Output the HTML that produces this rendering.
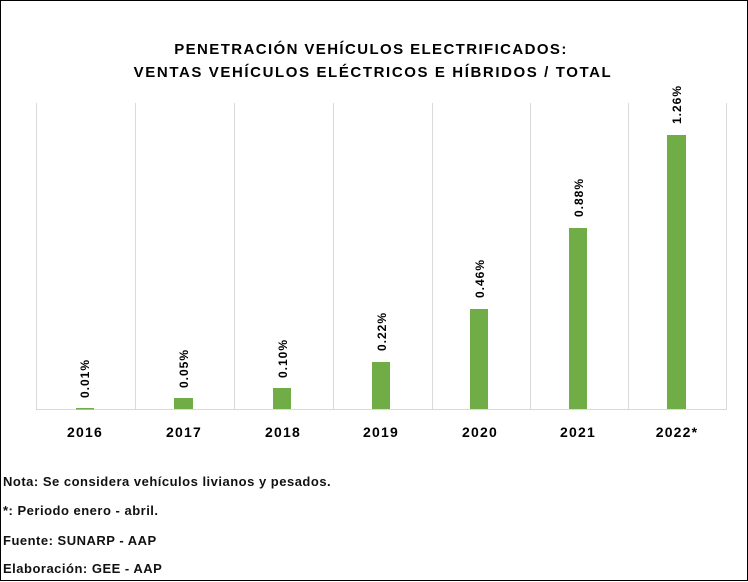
<!DOCTYPE html>
<html><head><meta charset="utf-8"><style>
body{margin:0;width:748px;height:582px;background:#fff;font-family:"Liberation Sans",sans-serif;overflow:hidden}
.frame{position:absolute;left:0;top:0;width:746px;height:579px;border:1px solid #000}
</style></head><body>
<div class="frame"></div>
<svg width="748" height="582" style="position:absolute;left:0;top:0" font-family="Liberation Sans, sans-serif">
<text x="371" y="54" text-anchor="middle" font-size="15" font-weight="bold" letter-spacing="1.4">PENETRACIÓN  VEHÍCULOS ELECTRIFICADOS:</text>
<text x="373" y="77" text-anchor="middle" font-size="15" font-weight="bold" letter-spacing="1.6">VENTAS VEHÍCULOS  ELÉCTRICOS  E HÍBRIDOS  /  TOTAL</text>
<g stroke="#d9d9d9" stroke-width="1">
<line x1="36.5" y1="103" x2="36.5" y2="409"/><line x1="135.5" y1="103" x2="135.5" y2="409"/>
<line x1="234.5" y1="103" x2="234.5" y2="409"/><line x1="333.5" y1="103" x2="333.5" y2="409"/>
<line x1="432.5" y1="103" x2="432.5" y2="409"/><line x1="530.5" y1="103" x2="530.5" y2="409"/>
<line x1="628.5" y1="103" x2="628.5" y2="409"/><line x1="726.5" y1="103" x2="726.5" y2="409"/>
<line x1="36" y1="409.5" x2="727" y2="409.5"/>
</g>
<g fill="#70ad47">
<rect x="76" y="408" width="18" height="1.5"/>
<rect x="174" y="398" width="19" height="11"/>
<rect x="273" y="388" width="18" height="21"/>
<rect x="372" y="362" width="18" height="47"/>
<rect x="470" y="309" width="18" height="100"/>
<rect x="569" y="228" width="18" height="181"/>
<rect x="667" y="135" width="19" height="274"/>
</g>
<g font-size="12" font-weight="bold" fill="#000" letter-spacing="1">
<text transform="translate(89,398) rotate(-90)">0.01%</text>
<text transform="translate(188,388) rotate(-90)">0.05%</text>
<text transform="translate(287,378) rotate(-90)">0.10%</text>
<text transform="translate(386,351) rotate(-90)">0.22%</text>
<text transform="translate(484,298) rotate(-90)">0.46%</text>
<text transform="translate(583,217) rotate(-90)">0.88%</text>
<text transform="translate(681,124) rotate(-90)">1.26%</text>
</g>
<g font-size="14" font-weight="bold" text-anchor="middle" letter-spacing="1.2">
<text x="85" y="437">2016</text><text x="184" y="437">2017</text><text x="283" y="437">2018</text>
<text x="381" y="437">2019</text><text x="480" y="437">2020</text><text x="578" y="437">2021</text>
<text x="677" y="437">2022*</text>
</g>
<g font-size="13" font-weight="bold" fill="#111" letter-spacing="0.5">
<text x="3" y="486">Nota: Se considera vehículos livianos y pesados.</text>
<text x="3" y="515">*: Periodo enero - abril.</text>
<text x="3" y="545">Fuente: SUNARP - AAP</text>
<text x="3" y="573">Elaboración: GEE - AAP</text>
</g>
</svg>
</body></html>
